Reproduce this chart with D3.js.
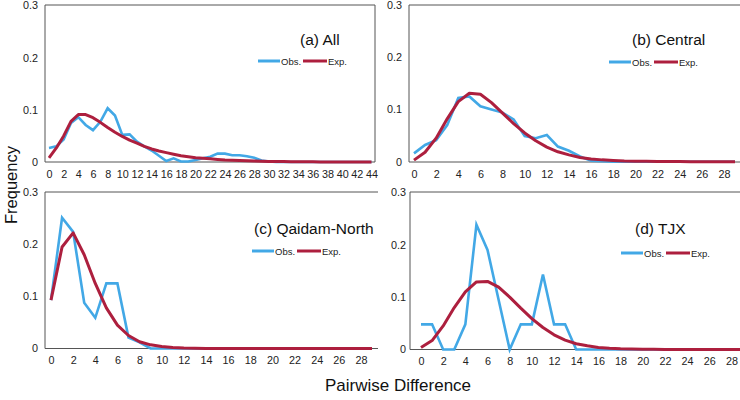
<!DOCTYPE html>
<html><head><meta charset="utf-8">
<script src="https://cdn.jsdelivr.net/npm/d3@7"></script>
<style>
body{margin:0;background:#fff;}
svg{display:block;font-family:"Liberation Sans",Arial,sans-serif;}
</style></head>
<body><svg id="c" width="740" height="400"></svg>
<script>
// ---------- DATA ----------
const catsA = [0,1,2,3,4,5,6,7,8,9,10,11,12,13,14,15,16,17,18,19,20,21,22,23,24,25,26,27,28,29,30,31,32,33,34,35,36,37,38,39,40,41,42,43,44];
const cats = [0,1,2,3,4,5,6,7,8,9,10,11,12,13,14,15,16,17,18,19,20,21,22,23,24,25,26,27,28,29];
const ticksA = [0,2,4,6,8,10,12,14,16,18,20,22,24,26,28,30,32,34,36,38,40,42,44];
const ticks = [0,2,4,6,8,10,12,14,16,18,20,22,24,26,28];
const yTicks = [0,0.1,0.2,0.3];

const obsAll = [0.027,0.030,0.043,0.075,0.086,0.071,0.061,0.077,0.103,0.089,0.052,0.053,0.039,0.030,0.022,0.012,0.002,0.007,0.001,0.001,0.004,0.007,0.010,0.016,0.016,0.013,0.013,0.011,0.008,0.003,0.001,0,0,0,0,0,0,0,0,0,0,0,0,0,0];
const expAll = [0.008,0.027,0.050,0.078,0.091,0.091,0.085,0.076,0.066,0.057,0.049,0.042,0.036,0.030,0.025,0.021,0.018,0.015,0.012,0.010,0.008,0.007,0.006,0.005,0.004,0.0035,0.003,0.0025,0.002,0.0015,0.001,0.001,0.0008,0.0006,0.0005,0.0004,0.0003,0.0002,0.0002,0.0001,0.0001,0.0001,0,0,0];

const obsCentral = [0.016,0.032,0.041,0.070,0.122,0.125,0.106,0.100,0.094,0.081,0.049,0.045,0.051,0.029,0.021,0.010,0.002,0.001,0,0,0,0,0,0,0,0,0,0,0,0];
const expCentral = [0.003,0.018,0.045,0.082,0.115,0.131,0.129,0.113,0.093,0.073,0.055,0.040,0.028,0.019,0.013,0.008,0.005,0.0035,0.0025,0.0015,0.001,0.0007,0.0005,0.0003,0.0002,0.0001,0.0001,0,0,0];

const obsQN = [0.093,0.251,0.224,0.088,0.059,0.125,0.125,0.021,0.012,0,0,0,0,0,0,0,0,0,0,0,0,0,0,0,0,0,0,0,0,0];
const expQN = [0.093,0.195,0.222,0.180,0.125,0.078,0.045,0.025,0.013,0.007,0.004,0.002,0.001,0.0005,0.0002,0.0001,0,0,0,0,0,0,0,0,0,0,0,0,0,0];

const obsTJX = [0.048,0.048,0,0,0.048,0.238,0.190,0.095,0,0.048,0.048,0.143,0.048,0.048,0,0,0,0,0,0,0,0,0,0,0,0,0,0,0,0];
const expTJX = [0.004,0.017,0.045,0.080,0.110,0.129,0.130,0.119,0.100,0.079,0.059,0.042,0.028,0.018,0.011,0.007,0.004,0.0025,0.0015,0.001,0.0006,0.0004,0.0002,0.0001,0,0,0,0,0,0];

const panelTitles = ["(a) All","(b) Central","(c) Qaidam-North","(d) TJX"];
const legendLabels = ["Obs.","Exp."];

// ---------- LAYOUT ----------
const panels = [
  {title:panelTitles[0], cats:catsA, ticks:ticksA, obs:obsAll, exp:expAll,
   frame:[45,5,375,162], right:true, x0:49, x1:371.5, y0:162, y1:5.5, tx:300, ty:45, lx:258, ly:61, ylx:38},
  {title:panelTitles[1], cats:cats, ticks:ticks, obs:obsCentral, exp:expCentral,
   frame:[409,5,745,162], right:false, x0:414, x1:735, y0:161.7, y1:5, tx:632, ty:45, lx:609, ly:62, ylx:402},
  {title:panelTitles[2], cats:cats, ticks:ticks, obs:obsQN, exp:expQN,
   frame:[45,192,378,348.5], right:false, x0:51, x1:372, y0:348.5, y1:192.3, tx:254, ty:234, lx:252, ly:251, ylx:38},
  {title:panelTitles[3], cats:cats, ticks:ticks, obs:obsTJX, exp:expTJX,
   frame:[410,192,745,349.5], right:false, x0:421, x1:742.5, y0:349.5, y1:192.3, tx:635, ty:234, lx:621, ly:253, ylx:406}
];
const blue = "#42a8e6", red = "#ad1f3e";
const tickFont = 10.8;

const svg = d3.select("#c");

panels.forEach(p => {
  const g = svg.append("g");
  const x = d3.scaleLinear().domain([p.cats[0], p.cats[p.cats.length-1]]).range([p.x0, p.x1]);
  const y = d3.scaleLinear().domain([0, 0.3]).range([p.y0, p.y1]);
  const [fl, ft, fr, fb] = p.frame;
  const framePath = p.right
    ? `M${fl},${ft}H${fr}V${fb}H${fl}Z`
    : `M${fr},${ft}H${fl}V${fb}H${fr}`;
  g.append("path").attr("d", framePath).attr("fill","none").attr("stroke","#555").attr("stroke-width",1);

  // x axis labels
  const xa = d3.axisBottom(x).tickValues(p.ticks).tickSize(0).tickPadding(0).tickFormat(d3.format("d"));
  const xg = g.append("g").attr("transform", `translate(0,${fb+8})`).call(xa);
  xg.select(".domain").remove();
  xg.selectAll("text").attr("font-size", tickFont).attr("fill","#222").attr("dy","0.71em")
    .attr("font-family","'Liberation Sans',Arial,sans-serif");

  // y axis labels
  const ya = d3.axisLeft(y).tickValues(yTicks).tickSize(0).tickPadding(0).tickFormat(d => d===0 ? "0" : d3.format(".1f")(d));
  const yg = g.append("g").attr("transform", `translate(${p.ylx},0)`).call(ya);
  yg.select(".domain").remove();
  yg.selectAll("text").attr("font-size", tickFont).attr("fill","#222")
    .attr("font-family","'Liberation Sans',Arial,sans-serif");

  const line = d3.line().x((d,i) => x(p.cats[i])).y(d => y(d));
  g.append("path").datum(p.obs).attr("d", line).attr("fill","none").attr("stroke", blue)
    .attr("stroke-width", 2.6).attr("stroke-linejoin","miter");
  g.append("path").datum(p.exp).attr("d", line).attr("fill","none").attr("stroke", red)
    .attr("stroke-width", 3).attr("stroke-linejoin","round");

  // title
  g.append("text").attr("x", p.tx).attr("y", p.ty).attr("font-size", 15.5).attr("fill","#111").text(p.title);

  // legend
  const lg = g.append("g").attr("transform", `translate(${p.lx},${p.ly})`);
  lg.append("line").attr("x1",0).attr("x2",22).attr("y1",0).attr("y2",0).attr("stroke",blue).attr("stroke-width",3);
  lg.append("text").attr("x",23).attr("y",3.5).attr("font-size",9.5).attr("fill","#222").text(legendLabels[0]);
  lg.append("line").attr("x1",45).attr("x2",69).attr("y1",0).attr("y2",0).attr("stroke",red).attr("stroke-width",3);
  lg.append("text").attr("x",70).attr("y",3.5).attr("font-size",9.5).attr("fill","#222").text(legendLabels[1]);
});

// axis titles
svg.append("text").attr("transform","translate(17,185) rotate(-90)").attr("text-anchor","middle")
  .attr("font-size",16.5).attr("fill","#111").text("Frequency");
svg.append("text").attr("x",398).attr("y",391).attr("text-anchor","middle")
  .attr("font-size",17).attr("fill","#111").text("Pairwise Difference");
</script></body></html>
